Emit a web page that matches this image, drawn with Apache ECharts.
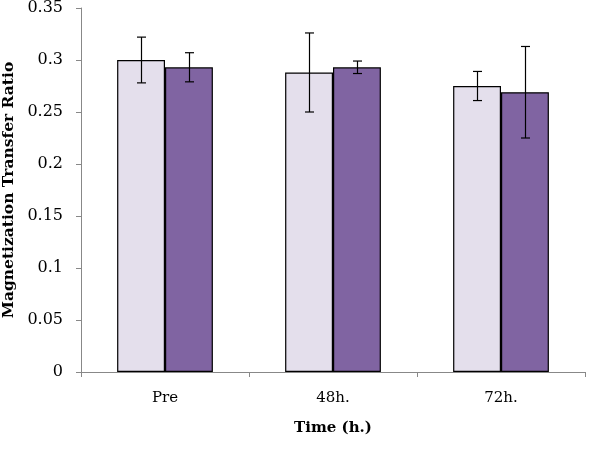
<!DOCTYPE html>
<html>
<head>
<meta charset="utf-8">
<script src="https://cdn.jsdelivr.net/npm/echarts@6/dist/echarts.min.js"></script>
<style>
  html, body { margin: 0; padding: 0; background: #fff; }
  #chart { width: 598px; height: 450px; }
</style>
</head>
<body>
<div id="chart"></div>
<script>
  // data
  var categories = ['Pre', '48h.', '72h.'];
  var lightValues = [0.300, 0.288, 0.275];
  var lightErrors = [0.022, 0.038, 0.014];
  var darkValues = [0.293, 0.293, 0.269];
  var darkErrors = [0.014, 0.006, 0.044];

  var GAP = 0.43; // barCategoryGap as fraction

  function errorSeries(values, errors, side) {
    var data = values.map(function (v, i) {
      return [i, v - errors[i], v + errors[i]];
    });
    return {
      type: 'custom',
      z: 10,
      silent: true,
      data: data,
      encode: { x: 0, y: [1, 2] },
      renderItem: function (params, api) {
        var band = api.size([1, 0])[0];
        var off = side * band * (1 - GAP) / 4;
        var lo = api.coord([api.value(0), api.value(1)]);
        var hi = api.coord([api.value(0), api.value(2)]);
        var x = Math.round(lo[0] + off) + 0.5;
        var cap = 4.5;
        var style = { stroke: '#000', lineWidth: 1.2 };
        return {
          type: 'group',
          children: [
            { type: 'line', shape: { x1: x, y1: lo[1], x2: x, y2: hi[1] }, style: style },
            { type: 'line', shape: { x1: x - cap, y1: lo[1], x2: x + cap, y2: lo[1] }, style: style },
            { type: 'line', shape: { x1: x - cap, y1: hi[1], x2: x + cap, y2: hi[1] }, style: style }
          ]
        };
      }
    };
  }

  var chart = echarts.init(document.getElementById('chart'));
  var font = '"DejaVu Serif", "Liberation Serif", serif';
  var option = {
    backgroundColor: '#fff',
    animation: false,
    grid: { left: 81, top: 8, right: 13, bottom: 78, containLabel: false, outerBoundsMode: 'none' },
    xAxis: {
      type: 'category',
      data: categories,
      name: 'Time (h.)',
      nameLocation: 'middle',
      nameGap: 49,
      nameTextStyle: { fontFamily: font, fontSize: 15, fontWeight: 'bold', color: '#000' },
      axisLine: { lineStyle: { color: '#888', width: 1 } },
      axisTick: { show: true, length: 5, lineStyle: { color: '#888' } },
      axisLabel: { fontFamily: font, fontSize: 15, color: '#000', margin: 19 }
    },
    yAxis: {
      type: 'value',
      min: 0,
      max: 0.35,
      interval: 0.05,
      name: 'Magnetization Transfer Ratio',
      nameLocation: 'middle',
      nameGap: 57,
      nameTextStyle: { fontFamily: font, fontSize: 15.5, fontWeight: 'bold', color: '#000' },
      axisLine: { show: true, lineStyle: { color: '#888', width: 1 } },
      axisTick: { show: true, length: 5, lineStyle: { color: '#888' } },
      splitLine: { show: false },
      axisLabel: {
        fontFamily: font, fontSize: 16, color: '#000', margin: 18,
        formatter: function (v) { return String(+v.toFixed(2)); }
      }
    },
    series: [
      {
        type: 'bar',
        data: lightValues,
        barGap: '0%',
        barCategoryGap: (GAP * 100) + '%',
        itemStyle: { color: '#E4DFEC', borderColor: '#000', borderWidth: 1.2 }
      },
      {
        type: 'bar',
        data: darkValues,
        barGap: '0%',
        barCategoryGap: (GAP * 100) + '%',
        itemStyle: { color: '#8064A2', borderColor: '#000', borderWidth: 1.2 }
      },
      errorSeries(lightValues, lightErrors, -1),
      errorSeries(darkValues, darkErrors, 1)
    ]
  };
  chart.setOption(option);
</script>
</body>
</html>
